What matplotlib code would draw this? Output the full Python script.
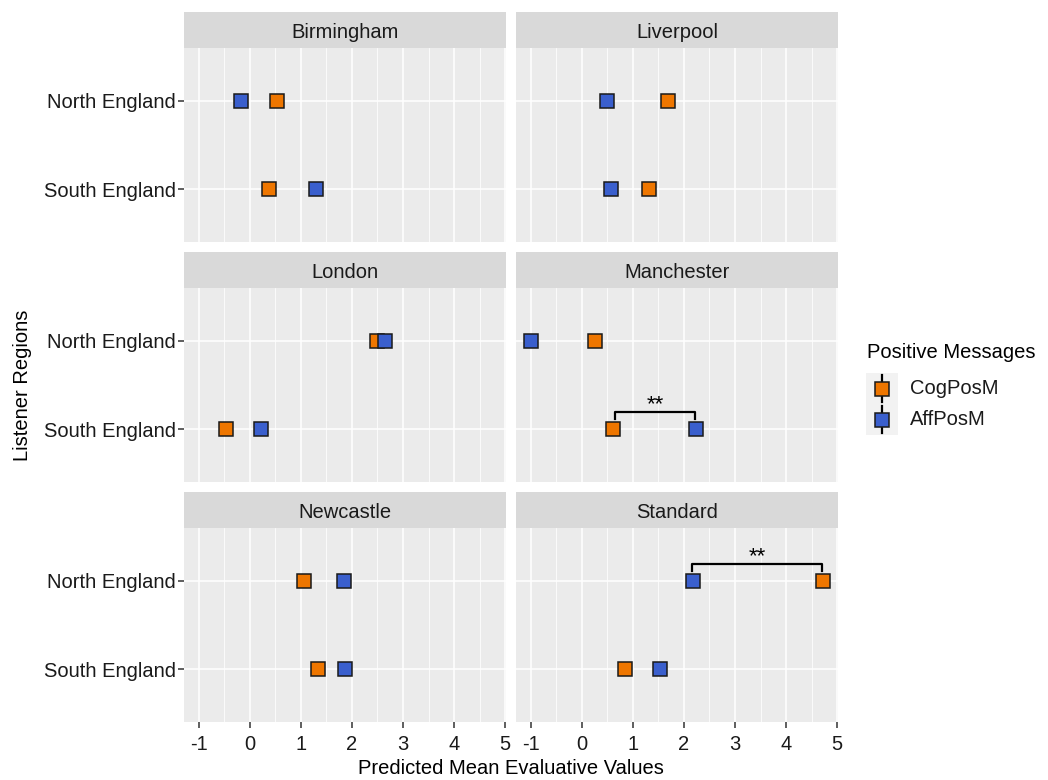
import numpy as np
import matplotlib
matplotlib.use("Agg")
import matplotlib.pyplot as plt

plt.rcParams['font.family'] = ['Liberation Sans', 'DejaVu Sans']

# data
cities = ["Birmingham", "Liverpool", "London", "Manchester", "Newcastle", "Standard"]
regions = ["North England", "South England"]
cog_north = [0.54, 1.68, 2.50, 0.26, 1.06, 4.73]
cog_south = [0.38, 1.32, -0.46, 0.61, 1.34, 0.85]
aff_north = [-0.17, 0.49, 2.64, -1.00, 1.85, 2.18]
aff_south = [1.30, 0.57, 0.22, 2.24, 1.87, 1.53]
series = ["CogPosM", "AffPosM"]
colors = ["#EE7600", "#3A5FCD"]

# significance brackets: city, region, from, to, label
brackets = [("Manchester", "South England", 0.65, 2.22, "**"),
            ("Standard", "North England", 2.15, 4.71, "**")]

yval = {"North England": 2, "South England": 1}

allx = cog_north + cog_south + aff_north + aff_south
lo, hi = min(allx), max(allx)
pad = 0.05 * (hi - lo)
xlim = (lo - pad, hi + pad)

W, H = 1048, 780
fig = plt.figure(figsize=(W / 100, H / 100), dpi=100)

col_x = [(184, 506), (516, 838)]
row_y = [(48, 242), (288, 482), (528, 722)]
strip_h = 36
fs = 14.5
txt = "#1A1A1A"
msize = 10.3

def fx(p):
    return p / W

def fy(p):
    return 1 - p / H

for i, city in enumerate(cities):
    r, c = divmod(i, 2)
    x0, x1 = col_x[c]
    y0, y1 = row_y[r]
    ax = fig.add_axes([fx(x0), fy(y1), fx(x1 - x0), (y1 - y0) / H])
    ax.set_facecolor("#EBEBEB")
    for s in ax.spines.values():
        s.set_visible(False)
    ax.set_xticks(np.arange(-1, 6, 1))
    ax.set_xticks(np.arange(-0.5, 5.0, 0.5), minor=True)
    ax.set_yticks([yval[g] for g in regions])
    ax.set_xlim(xlim)
    ax.set_ylim(0.4, 2.6)
    ax.grid(True, which="major", color="white", linewidth=1.1)
    ax.grid(True, which="minor", axis="x", color="white", linewidth=0.55)
    ax.set_axisbelow(True)
    ax.tick_params(which="minor", length=0)
    ax.tick_params(which="major", length=4, width=1.1, color="#333333",
                   labelsize=fs, labelcolor=txt, pad=2)
    ax.tick_params(axis="x", pad=5)
    if c == 0:
        ax.set_yticklabels(regions)
    else:
        ax.tick_params(axis="y", length=0, labelleft=False)
    if r == 2:
        ax.set_xticklabels([str(v) for v in range(-1, 6)])
    else:
        ax.tick_params(axis="x", length=0, labelbottom=False)

    ax.plot([cog_north[i], cog_south[i]], [yval["North England"], yval["South England"]],
            linestyle="none", marker="s", markersize=msize, markerfacecolor=colors[0],
            markeredgecolor="#1A1A1A", markeredgewidth=1.1, zorder=3)
    ax.plot([aff_north[i], aff_south[i]], [yval["North England"], yval["South England"]],
            linestyle="none", marker="s", markersize=msize, markerfacecolor=colors[1],
            markeredgecolor="#1A1A1A", markeredgewidth=1.1, zorder=4)

    for bc, bg, b1, b2, lab in brackets:
        if bc != city:
            continue
        yb = yval[bg] + 0.19
        ax.plot([b1, b1, b2, b2], [yb - 0.075, yb, yb, yb - 0.075],
                color="black", linewidth=1.6, solid_joinstyle="round", zorder=5)
        ax.text((b1 + b2) / 2, yb + 0.085, lab, ha="center", va="center",
                fontsize=16, color="black")

    sax = fig.add_axes([fx(x0), fy(y0), fx(x1 - x0), strip_h / H])
    sax.set_facecolor("#D9D9D9")
    sax.set_xticks([])
    sax.set_yticks([])
    for s in sax.spines.values():
        s.set_visible(False)
    sax.text(0.5, 0.42, city, ha="center", va="center", fontsize=fs, color=txt,
             transform=sax.transAxes)

fig.text(fx(511), fy(768), "Predicted Mean Evaluative Values", ha="center",
         va="center", fontsize=fs, color="black")
fig.text(fx(23), fy(385), "Listener Regions", ha="center", va="center",
         rotation=90, fontsize=fs, color="black")

# legend drawn in its own small axes
lax = fig.add_axes([fx(866), fy(435), fx(32), 62 / H])
lax.set_facecolor("#F2F2F2")
lax.set_xlim(0, 1)
lax.set_ylim(len(series), 0)
lax.set_xticks([])
lax.set_yticks([])
for s in lax.spines.values():
    s.set_visible(False)
for k, (name, col) in enumerate(zip(series, colors)):
    yc = k + 0.5
    lax.plot([0.5, 0.5], [yc - 0.42, yc + 0.42], color="black", linewidth=1.6)
    lax.plot([0.5], [yc], linestyle="none", marker="s", markersize=msize - 0.5,
             markerfacecolor=col, markeredgecolor="#1A1A1A", markeredgewidth=1.1)
    lax.text(1.38, yc, name, ha="left", va="center", fontsize=fs, color=txt,
             transform=lax.transData, clip_on=False)
fig.text(fx(867), fy(353), "Positive Messages", ha="left", va="center",
         fontsize=fs, color="black")

fig.savefig("out.png", dpi=100)
